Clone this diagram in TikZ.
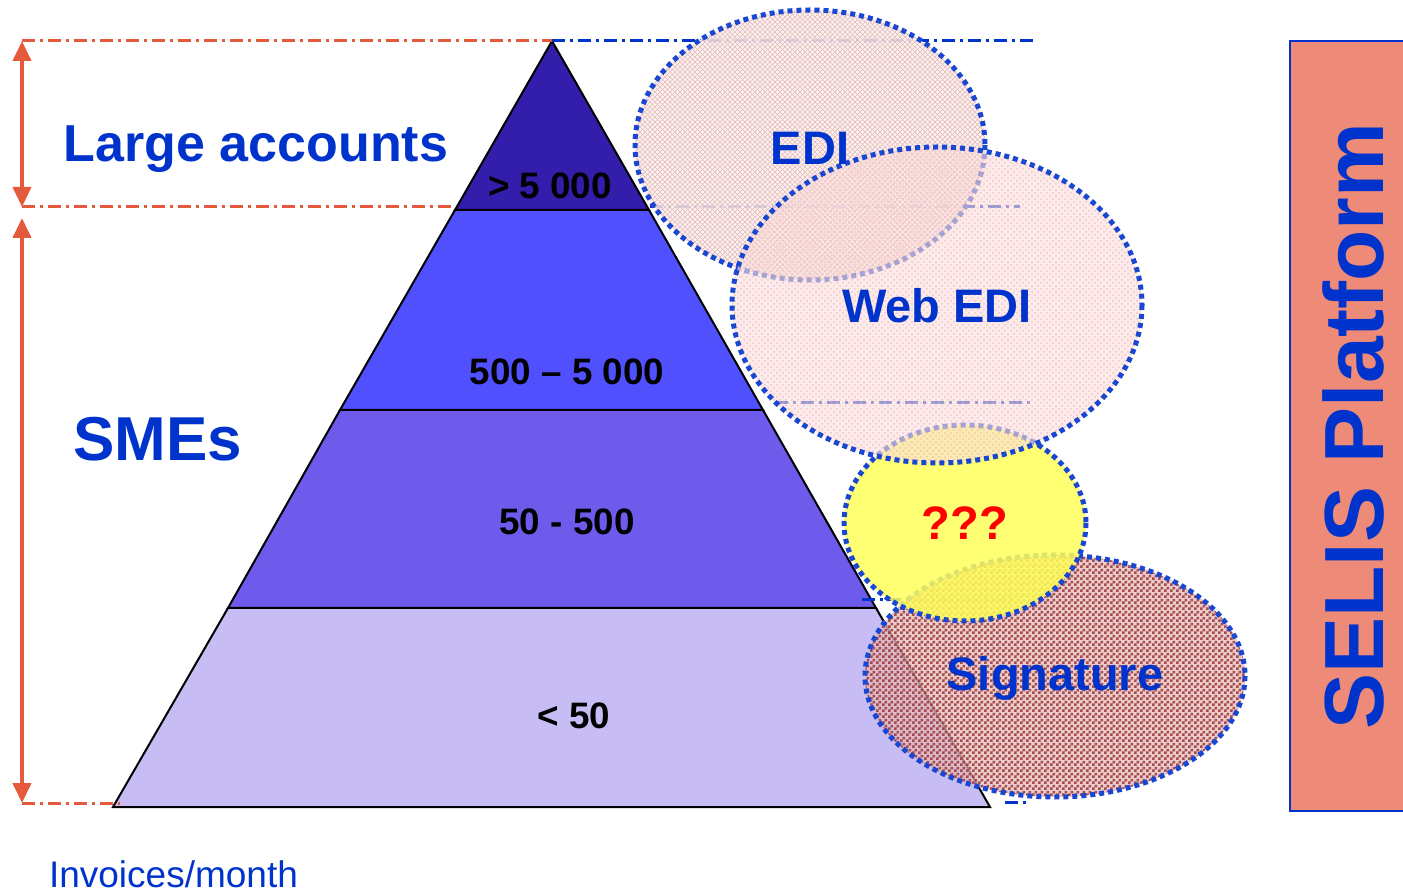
\documentclass[tikz,border=0pt]{standalone}
\usepackage{fontspec}
\setmainfont{Liberation Sans}
\usetikzlibrary{patterns,arrows.meta}
\tikzset{>=latex}

\definecolor{selisblue}{RGB}{0,51,204}
\definecolor{redline}{RGB}{229,90,60}
\definecolor{salmon}{RGB}{238,139,120}
\definecolor{lvlA}{RGB}{50,30,170}
\definecolor{lvlB}{RGB}{80,80,255}
\definecolor{lvlC}{RGB}{110,90,235}
\definecolor{lvlD}{RGB}{200,188,245}

\pgfdeclarepatternformonly{finechecker}{\pgfpointorigin}{\pgfqpoint{3pt}{3pt}}{\pgfqpoint{3pt}{3pt}}{
  \pgfpathrectangle{\pgfpointorigin}{\pgfqpoint{1.5pt}{1.5pt}}
  \pgfpathrectangle{\pgfqpoint{1.5pt}{1.5pt}}{\pgfqpoint{1.5pt}{1.5pt}}
  \pgfusepath{fill}}
\pgfdeclarepatternformonly{finehatch}{\pgfqpoint{-1pt}{-1pt}}{\pgfqpoint{3.5pt}{3.5pt}}{\pgfqpoint{2.5pt}{2.5pt}}{
  \pgfsetlinewidth{0.25pt}
  \pgfpathmoveto{\pgfqpoint{0pt}{0pt}}\pgfpathlineto{\pgfqpoint{2.5pt}{2.5pt}}
  \pgfpathmoveto{\pgfqpoint{0pt}{2.5pt}}\pgfpathlineto{\pgfqpoint{2.5pt}{0pt}}
  \pgfusepath{stroke}}

\tikzset{
  dashdot/.style={line width=1.5pt, dash pattern=on 6.5pt off 2.5pt on 1.5pt off 2.5pt},
  bubble/.style={line width=2.5pt, color=selisblue!90!white, dash pattern=on 2.5pt off 2pt},
  lvllabel/.style={font=\bfseries\fontsize{18.4}{20}\selectfont, text=black},
  bublabel/.style={font=\bfseries\fontsize{23.5}{26}\selectfont, text=selisblue},
}

\begin{document}
\begin{tikzpicture}[x=0.5pt,y=-0.5pt]

\useasboundingbox (0,0) rectangle (1403,892);

% pyramid
\draw[fill=lvlD, line width=1pt] (113,807)--(228,608)--(876,608)--(990,807)--cycle;
\draw[fill=lvlC, line width=1pt] (228,608)--(340,410)--(763,410)--(876,608)--cycle;
\draw[fill=lvlB, line width=1pt] (340,410)--(455,210)--(649,210)--(763,410)--cycle;
\draw[fill=lvlA, line width=1pt] (455,210)--(552,41)--(649,210)--cycle;

\node[lvllabel] (n5000) at (550,186) {> 5 000};
\node[lvllabel] (n500) at (567,372) {500 -- 5 000};
\node[lvllabel] (n50) at (567,522) {50 - 500};
\node[lvllabel] (nlow) at (574,716) {< 50};

% guide lines
\draw[dashdot, redline] (22,41)--(552,41);
\draw[dashdot, redline] (22,207)--(455,207);
\draw[dashdot, redline] (22,803)--(120,803);
\draw[dashdot, selisblue] (552,41)--(1035,41);
\draw[dashdot, selisblue] (650,207)--(1020,207);
\draw[dashdot, selisblue] (775,403)--(1035,403);
\draw[dashdot, selisblue] (862,600)--(1020,600);
\draw[dashdot, selisblue] (1005,802)--(1030,802);

\coordinate (topA) at (22,41);
\coordinate (botA) at (22,207);
\coordinate (topB) at (22,218);
\coordinate (botB) at (22,803);
\draw[{Triangle[width=9pt,length=10pt]}-{Triangle[width=9pt,length=10pt]}, line width=2pt, redline] (topA)--(botA);
\draw[{Triangle[width=9pt,length=10pt]}-{Triangle[width=9pt,length=10pt]}, line width=2pt, redline] (topB)--(botB);

\node[font=\bfseries\fontsize{26}{30}\selectfont, text=selisblue] (large) at (256,149) {Large accounts};
\node[font=\bfseries\fontsize{31}{34}\selectfont, text=selisblue] (smes) at (158,439) {SMEs};
\node[font=\fontsize{18.5}{20}\selectfont, text=selisblue, anchor=west] (invoices) at (42,874) {Invoices/month};

% bubbles
\fill[fill={rgb,255:red,228;green,185;blue,185}, fill opacity=0.75] (1055,676) ellipse [x radius=190, y radius=121];
\fill[pattern=finechecker, pattern color={rgb,255:red,150;green,45;blue,45}, fill opacity=0.8] (1055,676) ellipse [x radius=190, y radius=121];
\draw[bubble] (1055,676) ellipse [x radius=190, y radius=121];

\fill[fill={rgb,255:red,250;green,240;blue,238}, fill opacity=0.85] (810,145) ellipse [x radius=175, y radius=135];
\fill[pattern=finehatch, pattern color={rgb,255:red,230;green,185;blue,185}, fill opacity=0.8] (810,145) ellipse [x radius=175, y radius=135];
\draw[bubble] (810,145) ellipse [x radius=175, y radius=135];

\fill[fill={rgb,255:red,255;green,255;blue,90}, fill opacity=0.85] (965,523) ellipse [x radius=121, y radius=98];
\draw[bubble] (965,523) ellipse [x radius=121, y radius=98];

\fill[fill={rgb,255:red,250;green,222;blue,220}, fill opacity=0.6] (937,305) ellipse [x radius=205, y radius=158];
\fill[pattern=crosshatch dots, pattern color={rgb,255:red,240;green,170;blue,170}, fill opacity=0.6] (937,305) ellipse [x radius=205, y radius=158];
\draw[bubble] (937,305) ellipse [x radius=205, y radius=158];

\node[bublabel] (edi) at (810,148) {EDI};
\node[bublabel] (webedi) at (937,306) {Web EDI};
\node[bublabel, text=red] (unknown) at (965,523) {???};
\node[bublabel] (signature) at (1055,678) {Signature};

% platform
\draw[fill=salmon, draw=selisblue, line width=1pt] (1290,41) rectangle (1410,811);
\node[font=\bfseries\fontsize{42}{46}\selectfont, text=selisblue, rotate=90] (selis) at (1353,426) {SELIS Platform};

\end{tikzpicture}
\end{document}
